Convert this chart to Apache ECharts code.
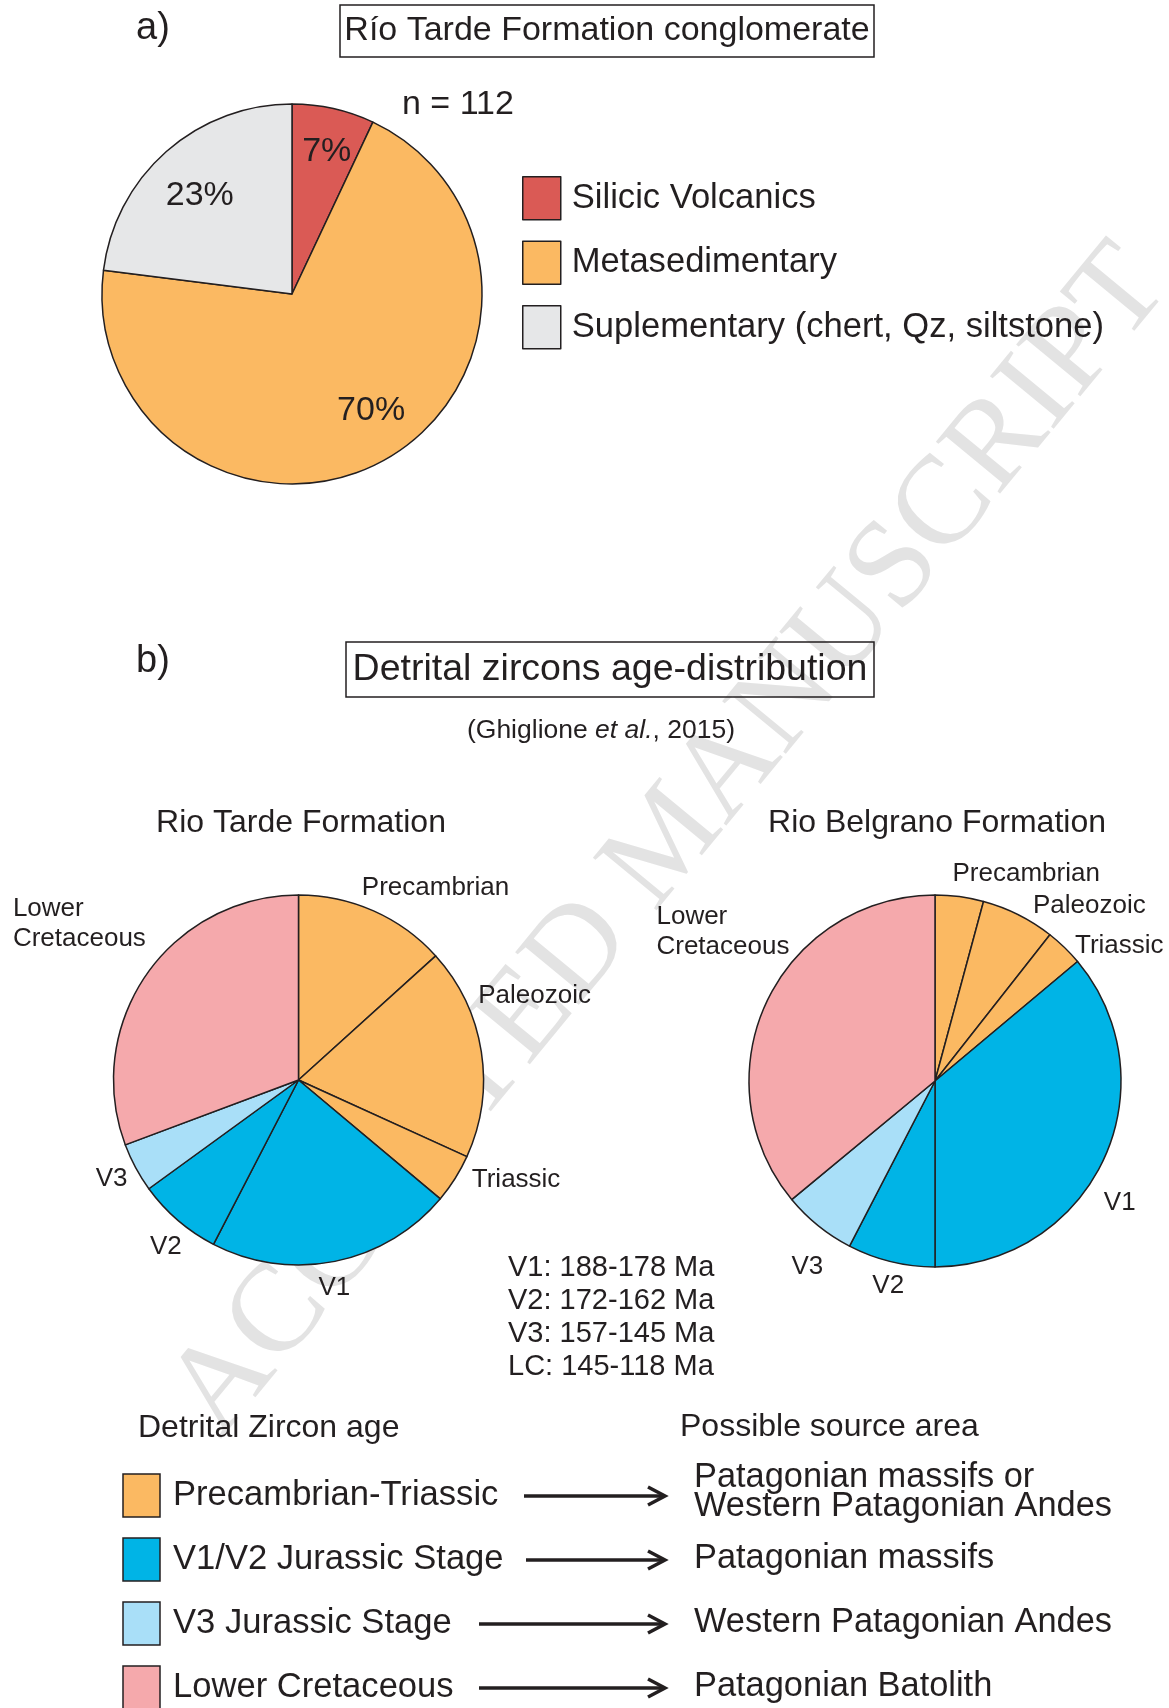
<!DOCTYPE html>
<html>
<head>
<meta charset="utf-8">
<title>Río Tarde Formation provenance</title>
<script src="https://cdn.jsdelivr.net/npm/echarts@6/dist/echarts.min.js"></script>
<style>
  html, body { margin: 0; padding: 0; background: #fff; }
  #main { width: 1169px; height: 1708px; }
</style>
</head>
<body>
<div id="main"></div>
<script>
// a) clast composition of the conglomerate (%)
const clastTypes = ['Silicic Volcanics', 'Metasedimentary', 'Suplementary (chert, Qz, siltstone)'];
const clastPercent = [7, 70, 23];
const clastCount = 112;

// b) detrital zircon age populations (share of each pie, %)
const agePopulations = ['Precambrian', 'Paleozoic', 'Triassic', 'V1', 'V2', 'V3', 'Lower\nCretaceous'];
const rioTardeShare = [13.3, 18.5, 4.3, 21.5, 7.4, 4.3, 30.7];
const rioBelgranoShare = [4.2, 6.4, 3.3, 36.1, 7.6, 6.4, 36.0];
const ageRanges = ['V1: 188-178 Ma', 'V2: 172-162 Ma', 'V3: 157-145 Ma', 'LC: 145-118 Ma'];

// key at the bottom
const zirconGroups = ['Precambrian-Triassic', 'V1/V2 Jurassic Stage', 'V3 Jurassic Stage', 'Lower Cretaceous'];
const sourceAreas = ['Patagonian massifs or\nWestern Patagonian Andes', 'Patagonian massifs', 'Western Patagonian Andes', 'Patagonian Batolith'];

const INK = '#231f20';
const FONT = '"Liberation Sans", Arial, Helvetica, sans-serif';
const clastColors = ['#da5a55', '#fbb962', '#e6e7e8'];
const groupColors = ['#fbb962', '#00b4e6', '#a9dff8', '#f5a9ac'];
const ageGroupIndex = [0, 0, 0, 1, 1, 2, 3]; // which key colour each age population uses

// hand placement of the labels (offsets from echarts' own spot)
const clastNudge = [[3, 0], [9, -11], [4, 11]];
const tardeNudge = [[-19, -16], [-15, -55], [6, -3], [-22, 19], [13, 20], [3, 7], [-123, -46]];
const belgranoNudge = [[-12, -15], [7, -2], [1, 4], [-11, 40], [19, 16], [14, 35], [-99, -67]];

const chart = echarts.init(document.getElementById('main'));

function agePie(name, values, center, radius, nudge) {
  return {
    name: name,
    type: 'pie',
    center: center,
    radius: radius,
    silent: true,
    avoidLabelOverlap: false,
    itemStyle: { borderColor: INK, borderWidth: 1.5 },
    label: {
      show: true,
      position: 'outside',
      formatter: '{b}',
      color: INK,
      fontFamily: FONT,
      fontSize: 26,
      lineHeight: 30,
      distanceToLabelLine: 4
    },
    labelLine: { show: false, length: 8, length2: 0 },
    labelLayout: function (p) {
      const n = nudge[p.dataIndex];
      const out = { dx: n[0], dy: n[1] };
      if (p.dataIndex === agePopulations.length - 1) out.align = 'left';
      return out;
    },
    data: agePopulations.map((a, i) => ({
      name: a,
      value: values[i],
      itemStyle: { color: groupColors[ageGroupIndex[i]] }
    }))
  };
}

function txt(text, x, y, size, extra) {
  const el = {
    type: 'text',
    x: x,
    y: y,
    style: { text: text, fontSize: size, fontFamily: FONT, fill: INK, align: 'left', verticalAlign: 'middle' }
  };
  if (extra) Object.assign(el.style, extra);
  return el;
}

const graphics = [];

// watermark, sits behind everything
graphics.push({
  type: 'text',
  x: 670,
  y: 842,
  z: -10,
  rotation: 50.5 * Math.PI / 180,
  style: {
    text: 'ACCEPTED MANUSCRIPT',
    fontSize: 126,
    fontFamily: '"Liberation Serif", "Times New Roman", serif',
    fill: '#e3e3e3',
    align: 'center',
    verticalAlign: 'middle'
  }
});

// panel a headings
graphics.push(txt('a)', 136, 29, 38));
graphics.push({ type: 'rect', shape: { x: 340, y: 5, width: 534, height: 52 }, style: { fill: 'none', stroke: INK, lineWidth: 1.5 } });
graphics.push(txt('Río Tarde Formation conglomerate', 607, 31, 34, { align: 'center' }));
graphics.push(txt('n = ' + clastCount, 402, 105, 34));

// panel b headings
graphics.push(txt('b)', 136, 662, 38));
graphics.push({ type: 'rect', shape: { x: 346, y: 642, width: 528, height: 55 }, style: { fill: 'none', stroke: INK, lineWidth: 1.5 } });
graphics.push(txt('Detrital zircons age-distribution', 610, 670, 37.5, { align: 'center' }));
graphics.push(txt('{n|(Ghiglione }{i|et al.}{n|, 2015)}', 601, 731, 26.5, {
  align: 'center',
  rich: {
    n: { fontSize: 26.5, fontFamily: FONT, fill: INK },
    i: { fontSize: 26.5, fontFamily: FONT, fill: INK, fontStyle: 'italic' }
  }
}));
graphics.push(txt('Rio Tarde Formation', 301, 823, 32, { align: 'center' }));
graphics.push(txt('Rio Belgrano Formation', 937, 823, 32, { align: 'center' }));
graphics.push(txt(ageRanges.join('\n'), 508, 1251, 29, { verticalAlign: 'top', lineHeight: 33 }));

// key
graphics.push(txt('Detrital Zircon age', 138, 1428, 32));
graphics.push(txt('Possible source area', 680, 1427, 32));
const rowY = [1495, 1559, 1623, 1687];
const arrowStart = [524, 526, 479, 479];
zirconGroups.forEach((g, i) => {
  const y = rowY[i];
  graphics.push({ type: 'rect', shape: { x: 123, y: y - 21, width: 37, height: 43 }, style: { fill: groupColors[i], stroke: INK, lineWidth: 1.5 } });
  graphics.push(txt(g, 173, y, 34.6));
  graphics.push({ type: 'line', shape: { x1: arrowStart[i], y1: y + 1, x2: 664, y2: y + 1 }, style: { stroke: INK, lineWidth: 3.5 } });
  graphics.push({ type: 'polyline', shape: { points: [[648, y - 8], [665, y + 1], [648, y + 10]] }, style: { stroke: INK, lineWidth: 3.5, fill: 'none' } });
  const twoLines = sourceAreas[i].indexOf('\n') >= 0;
  graphics.push(txt(sourceAreas[i], 694, twoLines ? y - 3 : y, 34.4, { lineHeight: 29 }));
});

const option = {
  animation: false,
  backgroundColor: '#fff',
  legend: {
    orient: 'vertical',
    left: 522,
    top: 176,
    padding: 0,
    itemWidth: 38,
    itemHeight: 43,
    itemGap: 20,
    icon: 'rect',
    selectedMode: false,
    data: clastTypes,
    itemStyle: { borderColor: INK, borderWidth: 1.5 },
    textStyle: { fontSize: 34.6, color: INK, fontFamily: FONT, padding: [0, 0, 0, 6] }
  },
  graphic: graphics,
  series: [
    {
      name: 'clasts',
      type: 'pie',
      center: [292, 294],
      radius: 190,
      silent: true,
      itemStyle: { borderColor: INK, borderWidth: 1.5 },
      label: { show: false },
      labelLine: { show: false },
      data: clastTypes.map((c, i) => ({ name: c, value: clastPercent[i], itemStyle: { color: clastColors[i] } }))
    },
    {
      // transparent ring only to put the % labels at 3/4 of the radius
      name: 'clast labels',
      type: 'pie',
      center: [292, 294],
      radius: [95, 190],
      silent: true,
      itemStyle: { color: 'transparent', borderWidth: 0 },
      label: { show: true, position: 'inside', formatter: '{c}%', fontSize: 34, color: INK, fontFamily: FONT },
      labelLine: { show: false },
      labelLayout: function (p) {
        const n = clastNudge[p.dataIndex];
        return { dx: n[0], dy: n[1] };
      },
      data: clastTypes.map((c, i) => ({ name: c, value: clastPercent[i] }))
    },
    agePie('Rio Tarde', rioTardeShare, [298.5, 1080], 185, tardeNudge),
    agePie('Rio Belgrano', rioBelgranoShare, [935, 1081], 186, belgranoNudge)
  ]
};

chart.setOption(option);
</script>
</body>
</html>
